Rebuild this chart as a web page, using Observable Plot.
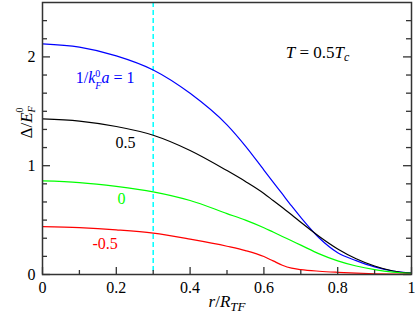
<!DOCTYPE html>
<html><head><meta charset="utf-8">
<script src="https://cdn.jsdelivr.net/npm/d3@7"></script>
<script src="https://cdn.jsdelivr.net/npm/@observablehq/plot@0.6"></script>
<style>
body{margin:0;background:#fff}
svg{display:block}
svg, svg text, svg tspan {font-family: "Liberation Serif", "Tinos", "Times New Roman", Times, "DejaVu Serif", serif !important;}
</style>
</head><body><div id="chart"></div>
<script>
// r / R_TF grid
const r = [0, 0.1, 0.2, 0.3, 0.4, 0.5, 0.55, 0.6, 0.625, 0.65, 0.675, 0.7, 0.75, 0.8, 0.85, 0.9, 0.95, 1.0];
// Δ/E_F^0 for each 1/k_F^0 a
const gapP1  = [2.12, 2.09, 2.01, 1.88, 1.665, 1.375, 1.18, 0.96, 0.85, 0.74, 0.63, 0.525, 0.335, 0.2, 0.128, 0.07, 0.032, 0.012];
const gapP05 = [1.43, 1.41, 1.36, 1.28, 1.14, 0.955, 0.855, 0.745, 0.68, 0.615, 0.55, 0.48, 0.35, 0.235, 0.145, 0.078, 0.032, 0.012];
const gap0   = [0.86, 0.845, 0.81, 0.76, 0.68, 0.56, 0.5, 0.43, 0.39, 0.35, 0.31, 0.27, 0.19, 0.125, 0.078, 0.045, 0.022, 0.01];
const gapM05 = [0.44, 0.43, 0.41, 0.38, 0.325, 0.26, 0.22, 0.165, 0.125, 0.085, 0.058, 0.045, 0.03, 0.02, 0.012, 0.007, 0.004, 0.002];
const seriesKeys = ["1", "0.5", "0", "-0.5"];
const seriesColors = ["#0000ff", "#000000", "#00ff00", "#ff0000"];
const seriesValues = [gapP1, gapP05, gap0, gapM05];

const xMajor = [0, 0.2, 0.4, 0.6, 0.8, 1];
const xMinor = [0.1, 0.3, 0.5, 0.7, 0.9];
const yMajor = [0, 1, 2];
const yMinor = [1,2,3,4,5,7,8,9,10,11,13,14].map(k => k / 6);
const markerR = [0.3];

const labelText = ["1/k0Fa = 1", "0.5", "0", "-0.5"];
const labelX = [0.09, 0.198, 0.203, 0.1355];
const labelY = [1.805, 1.214, 0.693, 0.282];
const tempText = "T = 0.5Tc";
const xTitle = "r/RTF";
const yTitle = "Δ/E0F";

const rows = seriesKeys.flatMap((k, j) => r.map((x, i) => ({r: x, v: seriesValues[j][i], s: k})));
const labels = labelText.map((t, i) => ({t, x: labelX[i], y: labelY[i], c: seriesColors[i]}));

const W = 415, H = 317, mL = 42, mR = 4, mT = 2, mB = 43;
const pw = W - mL - mR, ph = H - mT - mB;
const ax = "#333";
const serif = "Liberation Serif, DejaVu Serif, serif";

const plot = Plot.plot({
  width: W, height: H, marginLeft: mL, marginRight: mR, marginTop: mT, marginBottom: mB,
  x: {domain: [0, 1]},
  y: {domain: [0, 2.5]},
  color: {domain: seriesKeys, range: seriesColors},
  style: {fontSize: "17px", background: "white", color: "black", overflow: "visible"},
  marks: [
    Plot.ruleX(markerR, {x: d => d, stroke: "#00ffff", strokeWidth: 1.5, strokeDasharray: "5,3"}),
    Plot.line(rows, {x: "r", y: "v", z: "s", stroke: "s", strokeWidth: 1.2, curve: "monotone-x"}),
    Plot.ruleX(xMajor, {x: d => d, stroke: ax, strokeWidth: 1.3, insetTop: ph - 7}),
    Plot.ruleX(xMinor, {x: d => d, stroke: ax, strokeWidth: 1.3, insetTop: ph - 4}),
    Plot.ruleY(yMajor, {y: d => d, stroke: ax, strokeWidth: 1.3, insetRight: pw - 8}),
    Plot.ruleY(yMinor, {y: d => d, stroke: ax, strokeWidth: 1.3, insetRight: pw - 5}),
    Plot.ruleY(yMajor, {y: d => d, stroke: ax, strokeWidth: 1.3, insetLeft: pw - 8}),
    Plot.ruleY(yMinor, {y: d => d, stroke: ax, strokeWidth: 1.3, insetLeft: pw - 5}),
    Plot.frame({stroke: ax, strokeWidth: 1.5}),
    Plot.axisX({ticks: xMajor, tickSize: 0, tickPadding: 7, fontSize: 16, fontFamily: serif, label: null, tickFormat: d => String(d)}),
    Plot.axisY({ticks: yMajor, tickSize: 0, tickPadding: 7, fontSize: 16, fontFamily: serif, label: null, tickFormat: d => String(d)}),
    Plot.text(labels, {x: "x", y: "y", text: "t", fill: "c", textAnchor: "start", fontSize: 16, fontFamily: serif}),
    Plot.text([tempText], {x: () => 0.659, y: () => 2.036, text: d => d, textAnchor: "start", fontSize: 17, fontFamily: serif, fill: "black"}),
    Plot.text([xTitle], {frameAnchor: "bottom", dy: 32, text: d => d, fontSize: 17, fontFamily: serif, fill: "black"}),
    Plot.text([yTitle], {frameAnchor: "left", dx: -16, rotate: -90, text: d => d, fontSize: 17, fontFamily: serif, fill: "black"})
  ]
});
document.getElementById("chart").appendChild(plot);

// rich text: italics, stacked sub/superscripts ("back" = step back over the previous piece)
const rich = {
  "1/k0Fa = 1": [{t: "1/"}, {t: "k", it: 1}, {t: "0", size: 10, shift: -6}, {t: "F", it: 1, size: 10, shift: 6, back: 1}, {t: "a", it: 1, shift: 0}, {t: " = 1"}],
  "T = 0.5Tc": [{t: "T", it: 1}, {t: " = 0.5"}, {t: "T", it: 1}, {t: "c", it: 1, size: 12, shift: 3}],
  "r/RTF": [{t: "r", it: 1}, {t: "/"}, {t: "R", it: 1}, {t: "TF", it: 1, size: 13, shift: 4}],
  "Δ/E0F": [{t: "Δ/"}, {t: "E", it: 1}, {t: "0", size: 10, shift: -9}, {t: "F", it: 1, size: 10, shift: 3, back: 1}]
};
d3.select(plot).selectAll("text").each(function() {
  const segs = rich[this.textContent];
  if (!segs) return;
  const el = d3.select(this);
  el.text("");
  let cur = 0, prev = null;
  for (const s of segs) {
    const ts = el.append("tspan").text(s.t);
    if (s.it) ts.attr("font-style", "italic");
    if (s.size) ts.attr("font-size", s.size);
    const sh = s.shift || 0;
    if (sh !== cur) ts.attr("dy", sh - cur);
    cur = sh;
    if (s.back && prev) ts.attr("dx", -prev.node().getComputedTextLength());
    prev = ts;
  }
});
</script>
</body></html>
